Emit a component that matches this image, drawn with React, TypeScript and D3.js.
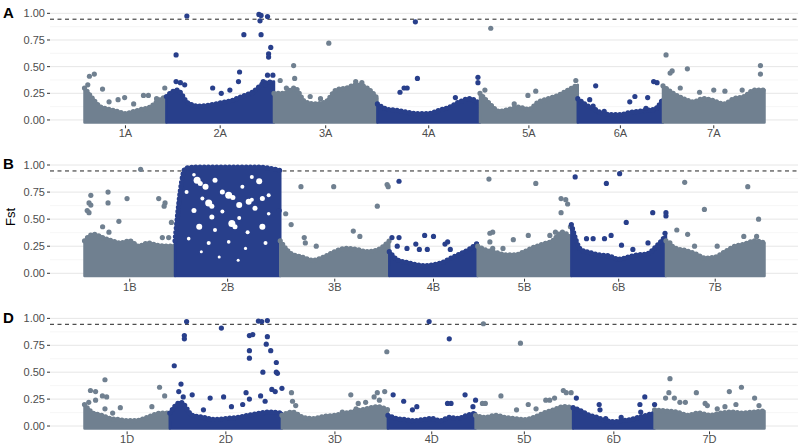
import React from 'react';
import * as d3 from 'd3';

// chromosome groups and lengths (Mb) per subgenome
const chrNumbers = ['1', '2', '3', '4', '5', '6', '7'];
const lengthsA = [594, 780, 750, 744, 709, 618, 736];
const lengthsB = [689, 801, 830, 673, 713, 720, 750];
const lengthsD = [495, 651, 615, 509, 566, 473, 638];

// top of the dense SNP band, 11 evenly spaced values along each chromosome
const bandA = [
  [0.30, 0.20, 0.12, 0.10, 0.08, 0.06, 0.08, 0.10, 0.12, 0.18, 0.22],
  [0.22, 0.28, 0.16, 0.13, 0.14, 0.16, 0.18, 0.22, 0.26, 0.34, 0.36],
  [0.25, 0.25, 0.30, 0.17, 0.15, 0.17, 0.28, 0.30, 0.33, 0.30, 0.20],
  [0.15, 0.10, 0.09, 0.07, 0.06, 0.06, 0.09, 0.12, 0.17, 0.20, 0.15],
  [0.25, 0.15, 0.08, 0.10, 0.12, 0.10, 0.17, 0.20, 0.23, 0.28, 0.33],
  [0.20, 0.14, 0.10, 0.06, 0.05, 0.05, 0.07, 0.08, 0.09, 0.10, 0.20],
  [0.32, 0.25, 0.20, 0.17, 0.20, 0.18, 0.15, 0.20, 0.22, 0.28, 0.28],
];
const bandB = [
  [0.30, 0.36, 0.33, 0.30, 0.28, 0.30, 0.25, 0.28, 0.26, 0.25, 0.25],
  [0.30, 0.97, 0.98, 0.98, 0.98, 0.98, 0.98, 0.98, 0.98, 0.97, 0.95],
  [0.30, 0.18, 0.15, 0.12, 0.15, 0.20, 0.23, 0.22, 0.20, 0.22, 0.30],
  [0.20, 0.12, 0.10, 0.08, 0.07, 0.08, 0.10, 0.14, 0.18, 0.22, 0.28],
  [0.25, 0.21, 0.19, 0.17, 0.17, 0.20, 0.24, 0.27, 0.30, 0.38, 0.32],
  [0.45, 0.22, 0.19, 0.17, 0.16, 0.13, 0.15, 0.17, 0.18, 0.25, 0.35],
  [0.30, 0.23, 0.21, 0.18, 0.14, 0.15, 0.20, 0.25, 0.27, 0.30, 0.28],
];
const bandD = [
  [0.20, 0.12, 0.10, 0.07, 0.06, 0.05, 0.05, 0.07, 0.10, 0.12, 0.12],
  [0.12, 0.22, 0.10, 0.08, 0.06, 0.07, 0.08, 0.10, 0.12, 0.13, 0.12],
  [0.10, 0.13, 0.08, 0.07, 0.09, 0.10, 0.12, 0.14, 0.16, 0.18, 0.15],
  [0.10, 0.07, 0.06, 0.05, 0.06, 0.07, 0.05, 0.08, 0.07, 0.10, 0.12],
  [0.10, 0.08, 0.10, 0.08, 0.07, 0.06, 0.08, 0.12, 0.15, 0.18, 0.17],
  [0.17, 0.14, 0.10, 0.08, 0.05, 0.04, 0.05, 0.06, 0.08, 0.10, 0.12],
  [0.15, 0.14, 0.13, 0.10, 0.12, 0.10, 0.12, 0.13, 0.12, 0.13, 0.14],
];

// isolated SNPs above the band: [relative position in chromosome, Fst]
const peaksA = [
  [[0.06, 0.41], [0.12, 0.43], [0.22, 0.29], [0.41, 0.19], [0.49, 0.21], [0.72, 0.23], [0.78, 0.23], [0.88, 0.20], [0.98, 0.30], [0.04, 0.33], [0.3, 0.17], [0.6, 0.15]],
  [[0.19, 0.975], [0.09, 0.61], [0.09, 0.36], [0.13, 0.35], [0.17, 0.33], [0.43, 0.30], [0.51, 0.25], [0.59, 0.28], [0.68, 0.45], [0.72, 0.80], [0.86, 0.99], [0.88, 0.98], [0.94, 0.97], [0.87, 0.93], [0.88, 0.80], [0.97, 0.68], [0.95, 0.62], [0.95, 0.59], [0.94, 0.42], [0.99, 0.42], [0.67, 0.36], [0.80, 0.25], [0.90, 0.36], [0.92, 0.33]],
  [[0.19, 0.51], [0.53, 0.72], [0.20, 0.39], [0.06, 0.37], [0.79, 0.36], [0.85, 0.35], [0.12, 0.30], [0.35, 0.22], [0.45, 0.20]],
  [[0.37, 0.92], [0.39, 0.39], [0.22, 0.26], [0.26, 0.30], [0.29, 0.30], [0.76, 0.21], [0.98, 0.40], [0.98, 0.35]],
  [[0.11, 0.86], [0.49, 0.23], [0.57, 0.27], [0.98, 0.37], [0.05, 0.28], [0.35, 0.15]],
  [[0.21, 0.32], [0.61, 0.17], [0.67, 0.22], [0.82, 0.21], [0.80, 0.11], [0.89, 0.36], [0.93, 0.35], [0.14, 0.19], [0.18, 0.13], [0.31, 0.08]],
  [[0.03, 0.61], [0.07, 0.44], [0.09, 0.46], [0.24, 0.48], [0.96, 0.51], [0.96, 0.43], [0.36, 0.26], [0.50, 0.28], [0.61, 0.27], [0.78, 0.28], [0.17, 0.30]],
];
const peaksB = [
  [[0.62, 0.96], [0.07, 0.72], [0.05, 0.65], [0.07, 0.63], [0.03, 0.58], [0.05, 0.56], [0.26, 0.75], [0.26, 0.65], [0.47, 0.69], [0.38, 0.48], [0.82, 0.69], [0.89, 0.65], [0.88, 0.62], [0.96, 0.47], [0.20, 0.43], [0.27, 0.38], [0.86, 0.33], [0.93, 0.33]],
  [[0.99, 0.58]],
  [[0.19, 0.80], [0.49, 0.80], [0.89, 0.62], [0.98, 0.82], [0.99, 0.80], [0.05, 0.55], [0.10, 0.45], [0.67, 0.39], [0.73, 0.34], [0.22, 0.33], [0.33, 0.25], [0.23, 0.28]],
  [[0.11, 0.85], [0.03, 0.33], [0.11, 0.33], [0.09, 0.25], [0.20, 0.23], [0.30, 0.27], [0.40, 0.35], [0.50, 0.34], [0.34, 0.22], [0.43, 0.22], [0.63, 0.27], [0.66, 0.29], [0.69, 0.22]],
  [[0.12, 0.87], [0.13, 0.37], [0.16, 0.38], [0.13, 0.29], [0.16, 0.23], [0.38, 0.31], [0.54, 0.35], [0.27, 0.23], [0.62, 0.83], [0.89, 0.69], [0.94, 0.68], [0.96, 0.64], [0.89, 0.56], [0.77, 0.35], [0.99, 0.43], [0.83, 0.38]],
  [[0.04, 0.89], [0.37, 0.83], [0.51, 0.92], [0.58, 0.47], [0.86, 0.56], [1.0, 0.56], [1.0, 0.53], [0.42, 0.35], [0.35, 0.32], [0.23, 0.32], [0.16, 0.32], [0.81, 0.28], [0.99, 0.37], [0.53, 0.26], [0.65, 0.22], [0.92, 0.24]],
  [[0.19, 0.84], [0.83, 0.80], [0.39, 0.59], [0.94, 0.50], [0.11, 0.40], [0.22, 0.36], [0.52, 0.25], [0.79, 0.34], [0.92, 0.34], [0.04, 0.28], [0.29, 0.25]],
];
const peaksD = [
  [[0.07, 0.33], [0.13, 0.32], [0.13, 0.24], [0.24, 0.43], [0.21, 0.28], [0.26, 0.27], [0.24, 0.16], [0.42, 0.17], [0.33, 0.12], [0.88, 0.36], [0.94, 0.28], [0.79, 0.18], [0.05, 0.22]],
  [[0.15, 0.97], [0.13, 0.84], [0.13, 0.81], [0.04, 0.56], [0.10, 0.39], [0.20, 0.29], [0.36, 0.26], [0.46, 0.91], [0.65, 0.20], [0.68, 0.31], [0.71, 0.25], [0.71, 0.84], [0.74, 0.85], [0.71, 0.70], [0.71, 0.63], [0.79, 0.975], [0.82, 0.97], [0.87, 0.98], [0.87, 0.83], [0.86, 0.76], [0.90, 0.70], [0.95, 0.59], [0.83, 0.50], [0.95, 0.50], [0.96, 0.49], [0.91, 0.34], [0.94, 0.32], [0.81, 0.28], [0.85, 0.23], [1.0, 0.35], [0.08, 0.32], [0.12, 0.27], [0.48, 0.27], [0.30, 0.15], [0.55, 0.18]],
  [[0.09, 0.31], [0.10, 0.23], [0.13, 0.19], [0.65, 0.29], [0.72, 0.21], [0.79, 0.22], [0.87, 0.27], [0.90, 0.31], [0.97, 0.32], [0.92, 0.24], [0.99, 0.69], [0.57, 0.13], [0.70, 0.16]],
  [[0.47, 0.97], [0.70, 0.81], [0.06, 0.29], [0.18, 0.23], [0.28, 0.15], [0.33, 0.18], [0.68, 0.21], [0.72, 0.21], [0.88, 0.29], [0.97, 0.18], [1.0, 0.24]],
  [[0.08, 0.95], [0.46, 0.77], [0.26, 0.28], [0.07, 0.21], [0.10, 0.21], [0.42, 0.15], [0.54, 0.20], [0.62, 0.16], [0.72, 0.24], [0.76, 0.24], [0.81, 0.26], [0.90, 0.33], [0.93, 0.31], [0.98, 0.31]],
  [[0.04, 0.26], [0.32, 0.20], [0.33, 0.15], [0.88, 0.27], [0.82, 0.20], [0.83, 0.13], [1.0, 0.20], [0.40, 0.07], [0.59, 0.08]],
  [[0.14, 0.44], [0.13, 0.31], [0.10, 0.26], [0.18, 0.26], [0.23, 0.22], [0.28, 0.22], [0.38, 0.31], [0.46, 0.21], [0.48, 0.19], [0.68, 0.32], [0.79, 0.36], [0.91, 0.26], [0.95, 0.19], [0.74, 0.20], [0.64, 0.18], [0.57, 0.16]],
];

// SNP-free pockets inside the saturated 2B block: [relative position, Fst, size px]
const gaps2B = [
  [0.21, 0.86, 3.5], [0.24, 0.83, 2.5], [0.11, 0.75, 2], [0.29, 0.80, 3], [0.38, 0.86, 2.5], [0.51, 0.72, 3.5],
  [0.55, 0.70, 2.5], [0.64, 0.80, 2], [0.80, 0.85, 3], [0.89, 0.72, 2], [0.18, 0.58, 2.5], [0.32, 0.65, 3.5],
  [0.35, 0.62, 2.5], [0.45, 0.57, 2], [0.61, 0.63, 3], [0.76, 0.60, 2.5], [0.89, 0.55, 1.8], [0.23, 0.43, 3],
  [0.38, 0.40, 2], [0.54, 0.46, 3.5], [0.57, 0.43, 2.5], [0.69, 0.38, 2], [0.83, 0.43, 3], [0.13, 0.32, 1.8],
  [0.32, 0.28, 2], [0.51, 0.29, 1.8], [0.67, 0.23, 1.6], [0.86, 0.28, 2], [0.45, 0.75, 2.5], [0.70, 0.66, 3],
  [0.73, 0.68, 2], [0.26, 0.69, 2], [0.83, 0.69, 2.5], [0.61, 0.51, 2], [0.35, 0.52, 2.5], [0.18, 0.91, 1.8],
  [0.73, 0.89, 2], [0.42, 0.15, 1.5], [0.60, 0.12, 1.5], [0.25, 0.20, 1.5],
];

const yTicks = [0, 0.25, 0.5, 0.75, 1];
const yMinor = [0.125, 0.375, 0.625, 0.875];
const fstThreshold = 0.945;

const chrColors = ['#708090', '#283F8B'];
const font = 'Liberation Sans, Arial, Helvetica, sans-serif';

const panels = [
  { name: 'A', lengths: lengthsA, band: bandA, peaks: peaksA, gaps: [], gapChr: -1, top: 8, bottom: 125.3 },
  { name: 'B', lengths: lengthsB, band: bandB, peaks: peaksB, gaps: gaps2B, gapChr: 1, top: 159.6, bottom: 278.7 },
  { name: 'D', lengths: lengthsD, band: bandD, peaks: peaksD, gaps: [], gapChr: -1, top: 313, bottom: 431.4 },
];

const left = 50, right = 798;
const R = 2.6;

function Panel({ p }) {
  const total = d3.sum(p.lengths);
  const starts = p.lengths.map((_, i) => d3.sum(p.lengths.slice(0, i)));
  const x = d3.scaleLinear().domain([0, total]).range([84.5, 764.5]);
  const y = d3.scaleLinear().domain([-0.05, 1.05]).range([p.bottom, p.top]);
  const fmt = d3.format('.2f');

  const area = d3.area<number[]>()
    .x(d => x(d[0]))
    .y0(y(0) + R)
    .y1(d => y(d[1]))
    .curve(d3.curveMonotoneX);
  const topLine = d3.line<number[]>()
    .x(d => x(d[0]))
    .y(d => y(d[1]))
    .curve(d3.curveMonotoneX);

  return (
    <g>
      {yMinor.map(v => (
        <line key={'m' + v} x1={left} x2={right} y1={y(v)} y2={y(v)} stroke="#f0f0f0" strokeWidth={0.6} />
      ))}
      {yTicks.map(v => (
        <line key={'g' + v} x1={left} x2={right} y1={y(v)} y2={y(v)} stroke="#e6e6e6" strokeWidth={1} />
      ))}
      <line x1={left} x2={right} y1={y(fstThreshold)} y2={y(fstThreshold)}
        stroke="#222" strokeWidth={1} strokeDasharray="4,3.5" />
      {p.lengths.map((len, i) => {
        const color = chrColors[i % 2];
        const pts = p.band[i].map((v, k) => [starts[i] + (k / (p.band[i].length - 1)) * len, v]);
        return (
          <g key={i}>
            <path d={area(pts) || ''} fill={color} stroke={color} strokeWidth={2.5} strokeLinejoin="round" />
            <path d={topLine(pts) || ''} fill="none" stroke={color} strokeWidth={R * 2}
              strokeLinecap="round" strokeDasharray="0,4.2" />
            {i === p.gapChr && p.gaps.map((d, k) => (
              <circle key={'h' + k} cx={x(starts[i] + d[0] * len)} cy={y(d[1])} r={d[2]} fill="#fff" />
            ))}
            {p.peaks[i].map((d, k) => (
              <circle key={k} cx={x(starts[i] + d[0] * len)} cy={y(d[1])} r={R} fill={color} />
            ))}
          </g>
        );
      })}
      {yTicks.map(v => (
        <g key={'t' + v}>
          <line x1={left - 3} x2={left} y1={y(v)} y2={y(v)} stroke="#333" strokeWidth={1} />
          <text x={left - 5} y={y(v)} dy="0.35em" textAnchor="end" fontSize={11} fill="#4d4d4d" fontFamily={font}>{fmt(v)}</text>
        </g>
      ))}
      {p.lengths.map((len, i) => {
        const cx = x(starts[i] + len / 2);
        return (
          <g key={'x' + i}>
            <line x1={cx} x2={cx} y1={p.bottom} y2={p.bottom + 3} stroke="#333" strokeWidth={1} />
            <text x={cx} y={p.bottom + 12} textAnchor="middle" fontSize={11} fill="#4d4d4d" fontFamily={font}>
              {chrNumbers[i] + p.name}
            </text>
          </g>
        );
      })}
      <text x={3} y={p.top + 9.5} fontSize={15} fontWeight="bold" fill="#000" fontFamily={font}>{p.name}</text>
    </g>
  );
}

export default function App() {
  return (
    <svg width={800} height={444} style={{ position: 'absolute', left: 0, top: 0, background: '#fff' }}>
      {panels.map(p => <Panel key={p.name} p={p} />)}
      <text transform="translate(15,217) rotate(-90)" textAnchor="middle" fontSize={13} fill="#000" fontFamily={font}>Fst</text>
    </svg>
  );
}
